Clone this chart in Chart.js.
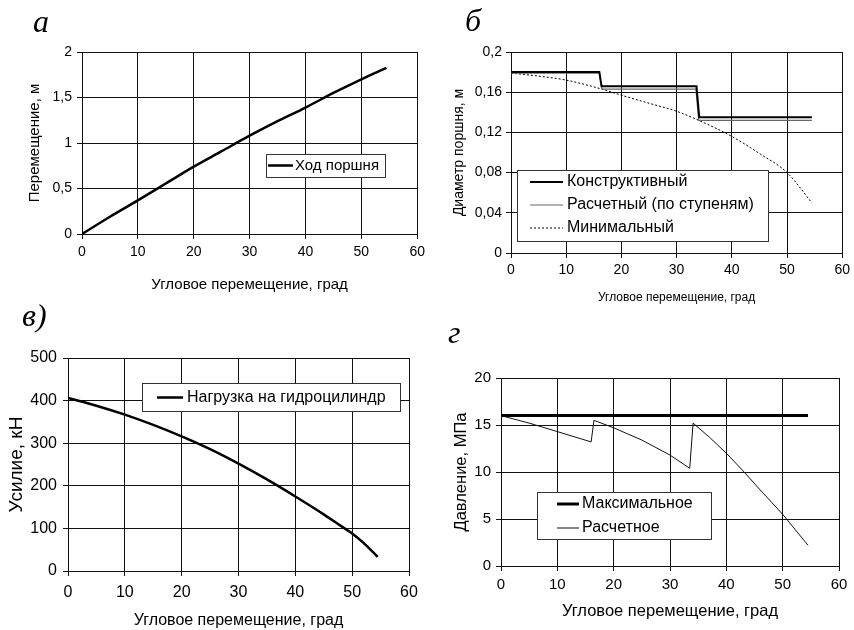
<!DOCTYPE html>
<html>
<head>
<meta charset="utf-8">
<script src="https://cdn.jsdelivr.net/npm/chart.js@4"></script>
<style>
  body { margin: 0; background: #fff; }
  #wrap { position: relative; width: 854px; height: 630px; overflow: hidden; }
  canvas { position: absolute; }
  .lbl { position: absolute; font-family: "Liberation Serif", "Times New Roman", serif; font-style: italic; font-size: 32px; line-height: 1; color: #000; }
</style>
</head>
<body>
<div id="wrap">
  <canvas id="chA" width="430" height="300" style="left:0;top:0"></canvas>
  <canvas id="chB" width="427" height="312" style="left:427px;top:0"></canvas>
  <canvas id="chC" width="430" height="330" style="left:0;top:300px"></canvas>
  <canvas id="chD" width="427" height="330" style="left:427px;top:300px"></canvas>
  <div class="lbl" style="left:33px;top:5px">а</div>
  <div class="lbl" style="left:465px;top:4px">б</div>
  <div class="lbl" style="left:22px;top:299px">в)</div>
  <div class="lbl" style="left:448px;top:316px">г</div>
</div>
<script>
const ticksX = ['0', '10', '20', '30', '40', '50', '60'];

// а - ход поршня
const xA = [0, 5, 10, 15, 20, 25, 30, 35, 40, 45, 50, 54.5];
const strokeA = [0, 0.19, 0.37, 0.555, 0.74, 0.91, 1.08, 1.24, 1.39, 1.55, 1.70, 1.825];
const ticksYA = ['0', '0,5', '1', '1,5', '2'];

// б - диаметр поршня
const xB1 = [0, 16, 16.4, 33.6, 34.1, 54.5];
const designB = [0.18, 0.18, 0.166, 0.166, 0.135, 0.135];
const xB2 = [0, 16, 16.5, 33.5, 34, 54.5];
const calcB = [0.179, 0.179, 0.163, 0.163, 0.132, 0.132];
const xB3 = [0, 5, 10, 16.5, 20, 25, 30, 34, 40, 45, 50, 54.5];
const minB = [0.179, 0.176, 0.172, 0.163, 0.157, 0.149, 0.141, 0.132, 0.116, 0.099, 0.08, 0.05];
const ticksYB = ['0', '0,04', '0,08', '0,12', '0,16', '0,2'];

// в - усилие
const xC = [0, 5, 10, 15, 20, 25, 30, 35, 40, 45, 48, 50, 52, 54.5];
const loadC = [406, 388, 367, 343, 316, 286, 252, 215, 175, 133, 106, 88, 66, 33];
const ticksYC = ['0', '100', '200', '300', '400', '500'];

// г - давление
const xD1 = [0, 54.5];
const maxD = [16, 16];
const xD2 = [0, 5, 10, 16, 16.5, 20, 25, 30, 33.5, 34.1, 37, 40, 43, 46, 50, 54.5];
const calcD = [16, 15.2, 14.3, 13.2, 15.5, 14.7, 13.4, 11.8, 10.4, 15.2, 13.7, 12.0, 10.1, 8.1, 5.5, 2.2];
const ticksYD = ['0', '5', '10', '15', '20'];

const FONT = '"Liberation Sans", Arial, sans-serif';

function pts(xs, ys) {
  return xs.map((x, i) => ({ x: x, y: ys[i] }));
}

const boxLegend = {
  id: 'boxLegend',
  afterDraw(chart, args, o) {
    const ctx = chart.ctx;
    const b = o.box;
    ctx.save();
    ctx.fillStyle = '#fff';
    ctx.fillRect(b[0], b[1], b[2], b[3]);
    ctx.strokeStyle = '#333';
    ctx.lineWidth = 1;
    ctx.strokeRect(Math.round(b[0]) + 0.5, Math.round(b[1]) + 0.5, Math.round(b[2]), Math.round(b[3]));
    ctx.font = o.font + 'px ' + FONT;
    ctx.textBaseline = 'middle';
    chart.data.datasets.forEach((ds, i) => {
      const y = o.rows[i];
      ctx.beginPath();
      ctx.setLineDash(ds.borderDash || []);
      ctx.lineWidth = ds.borderWidth;
      ctx.strokeStyle = ds.borderColor;
      ctx.moveTo(o.line[0], y);
      ctx.lineTo(o.line[1], y);
      ctx.stroke();
      ctx.setLineDash([]);
      ctx.fillStyle = '#000';
      ctx.fillText(ds.label, o.textX, y);
    });
    ctx.restore();
  }
};

function makeChart(id, datasets, p) {
  return new Chart(document.getElementById(id), {
    type: 'line',
    data: { datasets: datasets },
    options: {
      responsive: false,
      animation: false,
      layout: { padding: { left: 0, top: p.top, right: p.right, bottom: 0 } },
      elements: { point: { radius: 0 }, line: { tension: 0 } },
      plugins: {
        legend: { display: false },
        tooltip: { enabled: false },
        boxLegend: p.legend
      },
      scales: {
        x: {
          type: 'linear',
          min: 0,
          max: 60,
          afterFit: s => { s.height = p.xh; },
          ticks: {
            stepSize: 10,
            autoSkip: false,
            maxRotation: 0,
            padding: p.xpad,
            color: '#000',
            font: { family: FONT, size: p.tick },
            callback: (v, i) => ticksX[i]
          },
          grid: { color: '#111', lineWidth: 1, tickLength: 5 },
          border: { color: '#111', width: 1 },
          title: {
            display: true,
            text: 'Угловое перемещение, град',
            color: '#000',
            font: { family: FONT, size: p.xtf },
            padding: { top: 0, bottom: p.xtp }
          }
        },
        y: {
          type: 'linear',
          min: 0,
          max: p.ymax,
          afterFit: s => { s.width = p.yw; },
          ticks: {
            stepSize: p.step,
            autoSkip: false,
            padding: p.ypad,
            color: '#000',
            font: { family: FONT, size: p.tick },
            callback: (v, i) => p.yticks[i]
          },
          grid: { color: '#111', lineWidth: 1, tickLength: 5 },
          border: { color: '#111', width: 1 },
          title: {
            display: true,
            text: p.ytitle,
            color: '#000',
            font: { family: FONT, size: p.ytf },
            padding: { top: p.ytp, bottom: 0 }
          }
        }
      }
    },
    plugins: [boxLegend]
  });
}

makeChart('chA', [
  { label: 'Ход поршня', data: pts(xA, strokeA), borderColor: '#000', borderWidth: 2.5, cubicInterpolationMode: 'monotone' }
], {
  top: 52, right: 9, xh: 66, yw: 82, ymax: 2, step: 0.5, yticks: ticksYA,
  tick: 14, xpad: 5, ypad: 5, xtf: 15, xtp: 6, ytf: 15, ytp: 26,
  ytitle: 'Перемещение, м',
  legend: { box: [266, 154, 119, 23], line: [268, 293], textX: 295, rows: [165.5], font: 15 }
});

makeChart('chB', [
  { label: 'Конструктивный', data: pts(xB1, designB), borderColor: '#000', borderWidth: 2 },
  { label: 'Расчетный (по ступеням)', data: pts(xB2, calcB), borderColor: '#666', borderWidth: 1.2 },
  { label: 'Минимальный', data: pts(xB3, minB), borderColor: '#000', borderWidth: 1, borderDash: [2, 2], cubicInterpolationMode: 'monotone' }
], {
  top: 52, right: 10, xh: 59, yw: 84, ymax: 0.2, step: 0.04, yticks: ticksYB,
  tick: 14, xpad: 4, ypad: 4, xtf: 12, xtp: 6.8, ytf: 14, ytp: 24,
  ytitle: 'Диаметр поршня, м',
  legend: { box: [90, 170, 251, 71], line: [103, 136], textX: 140, rows: [182, 205, 228], font: 16 }
});

makeChart('chC', [
  { label: 'Нагрузка на гидроцилиндр', data: pts(xC, loadC), borderColor: '#000', borderWidth: 2.5, cubicInterpolationMode: 'monotone' }
], {
  top: 58, right: 21, xh: 59, yw: 68, ymax: 500, step: 100, yticks: ticksYC,
  tick: 16, xpad: 7, ypad: 6, xtf: 16, xtp: 0, ytf: 19, ytp: 5.6,
  ytitle: 'Усилие, кН',
  legend: { box: [142, 83, 258, 28], line: [157, 183], textX: 187, rows: [97.5], font: 16 }
});

makeChart('chD', [
  { label: 'Максимальное', data: pts(xD1, maxD), borderColor: '#000', borderWidth: 3 },
  { label: 'Расчетное', data: pts(xD2, calcD), borderColor: '#111', borderWidth: 1 }
], {
  top: 78, right: 15, xh: 64, yw: 74, ymax: 20, step: 5, yticks: ticksYD,
  tick: 15, xpad: 5, ypad: 5, xtf: 16.5, xtp: 8.5, ytf: 16.5, ytp: 25,
  ytitle: 'Давление, МПа',
  legend: { box: [110, 192, 174, 47], line: [130, 152], textX: 155, rows: [204, 228], font: 16 }
});
</script>
</body>
</html>
